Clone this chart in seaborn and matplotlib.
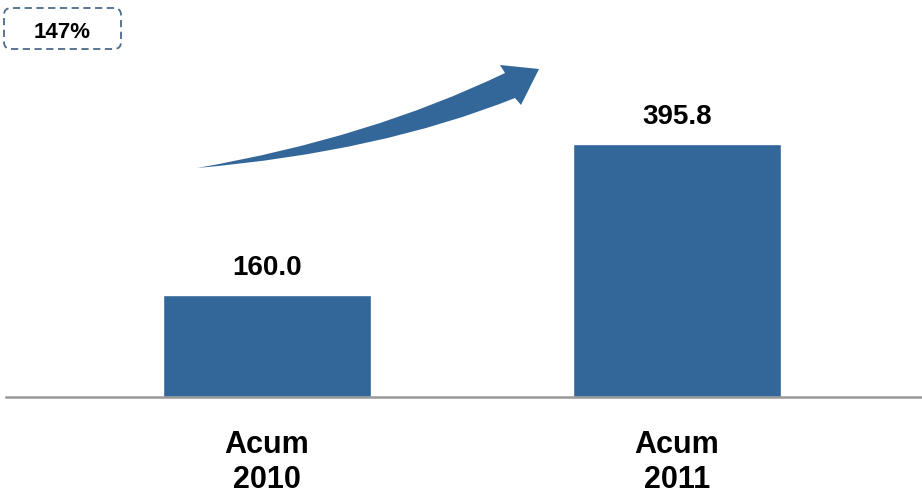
import numpy as np
import pandas as pd
import matplotlib.pyplot as plt
import seaborn as sns
from matplotlib.path import Path
from matplotlib.patches import PathPatch, FancyBboxPatch

# Data
periods = ['Acum\n2010', 'Acum\n2011']
values = [160.0, 395.8]
growth_label = '147%'

bar_color = '#336699'

sns.set_style('white')
plt.rcParams['font.family'] = ['Liberation Sans', 'DejaVu Sans']
plt.rcParams['text.color'] = 'black'
plt.rcParams['xtick.color'] = 'black'

df = pd.DataFrame({'period': periods, 'value': values})

fig = plt.figure(figsize=(9.22, 4.96), dpi=100)
ax = fig.add_axes([6 / 922, 99 / 496, 916 / 922, 397 / 496])

sns.barplot(data=df, x='period', y='value', color=bar_color, width=0.505,
            saturation=1, ax=ax)

ax.set_xlim(-0.6366, 1.5976)
ax.set_ylim(0, 622)
ax.set_xlabel('')
ax.set_ylabel('')
ax.set_yticks([])
for side in ['top', 'left', 'right']:
    ax.spines[side].set_visible(False)
ax.spines['bottom'].set_color('#999999')
ax.spines['bottom'].set_linewidth(1.8)
ax.tick_params(axis='x', length=0, pad=24)
for lbl in ax.get_xticklabels():
    lbl.set_fontsize(22)
    lbl.set_fontweight('bold')
    lbl.set_color('black')

# value labels above bars
for i, v in enumerate(values):
    ax.annotate(f'{v:.1f}', (i, v), xytext=(0, 10), textcoords='offset points',
                ha='center', va='bottom', fontsize=20, fontweight='bold',
                color='black')

# curved growth arrow (figure pixel coords, y from top)
def px(x, y):
    return (x / 922, 1 - y / 496)

verts = [px(197, 168), px(370, 138), px(505, 73),
         px(500, 65), px(539, 69), px(521, 105), px(515, 98),
         px(380, 152), px(197, 168), px(197, 168)]
codes = [Path.MOVETO, Path.CURVE3, Path.CURVE3,
         Path.LINETO, Path.LINETO, Path.LINETO, Path.LINETO,
         Path.CURVE3, Path.CURVE3, Path.CLOSEPOLY]
arrow = PathPatch(Path(verts, codes), facecolor=bar_color, edgecolor='none',
                  transform=fig.transFigure)
fig.patches.append(arrow)

# dashed growth box
box = FancyBboxPatch((0.04, 4.47), 1.17, 0.41,
                     boxstyle='round,pad=0,rounding_size=0.07',
                     facecolor='white', edgecolor='#4d6b8a', linewidth=1.3,
                     linestyle=(0, (4, 2.5)), transform=fig.dpi_scale_trans)
fig.patches.append(box)
fig.text(62 / 922, 1 - 32 / 496, growth_label, ha='center', va='center',
         fontsize=16, fontweight='bold', color='black')

fig.savefig('out.png', dpi=100)
